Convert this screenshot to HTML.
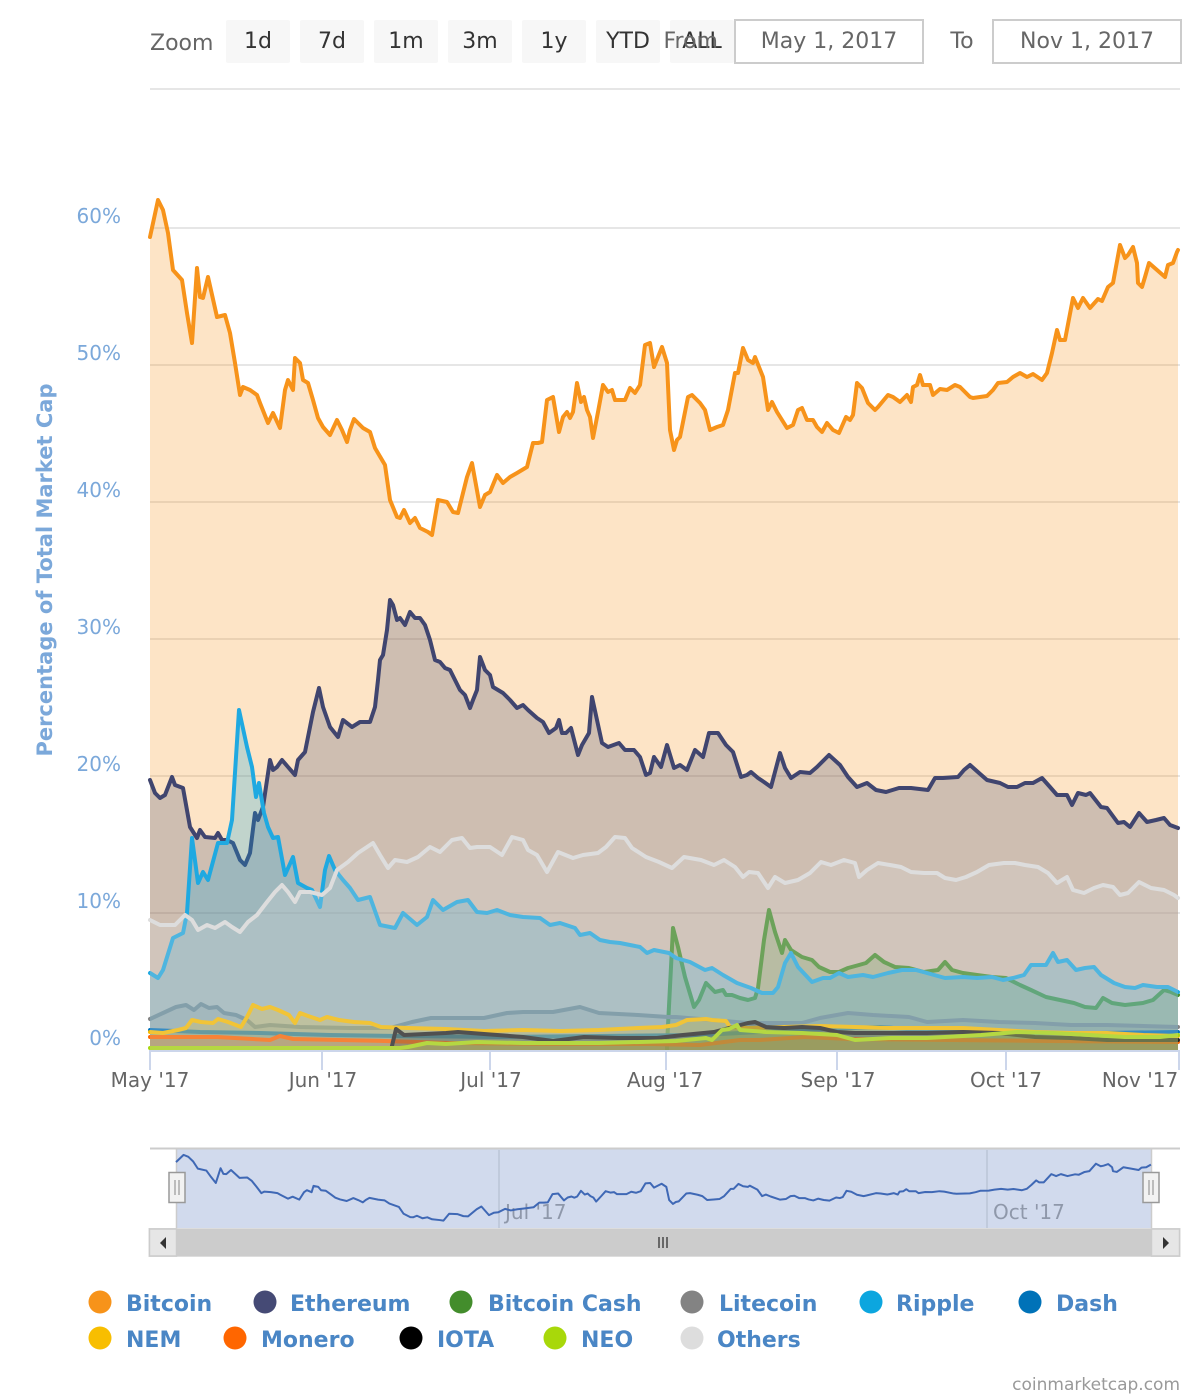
<!DOCTYPE html>
<html><head><meta charset="utf-8"><style>
html,body{margin:0;padding:0;background:#fff;}
svg{display:block;font-family:"DejaVu Sans","Liberation Sans",sans-serif;}
</style></head><body>
<svg width="1200" height="1400" viewBox="0 0 1200 1400" xmlns="http://www.w3.org/2000/svg">
<rect width="1200" height="1400" fill="#fff"/>
<!-- range selector -->
<text x="150" y="50" font-size="22" fill="#666">Zoom</text>
<g fill="#f7f7f7">
<rect x="226" y="20" width="64" height="43" rx="2"/><rect x="300" y="20" width="64" height="43" rx="2"/><rect x="374" y="20" width="64" height="43" rx="2"/><rect x="448" y="20" width="64" height="43" rx="2"/><rect x="522" y="20" width="64" height="43" rx="2"/><rect x="596" y="20" width="64" height="43" rx="2"/><rect x="670" y="20" width="64" height="43" rx="2"/>
</g>
<g font-size="22" fill="#333" text-anchor="middle">
<text x="258" y="48">1d</text><text x="332" y="48">7d</text><text x="406" y="48">1m</text><text x="480" y="48">3m</text><text x="554" y="48">1y</text><text x="628" y="48">YTD</text><text x="702" y="48">ALL</text>
</g>
<text x="718" y="48" font-size="22" fill="#666" text-anchor="end">From</text>
<rect x="735" y="20" width="188" height="43" fill="#fff" stroke="#ccc" stroke-width="2"/>
<text x="829" y="48" font-size="22" fill="#666" text-anchor="middle">May 1, 2017</text>
<text x="962" y="48" font-size="22" fill="#666" text-anchor="middle">To</text>
<rect x="993" y="20" width="188" height="43" fill="#fff" stroke="#ccc" stroke-width="2"/>
<text x="1087" y="48" font-size="22" fill="#666" text-anchor="middle">Nov 1, 2017</text>

<!-- gridlines -->
<g stroke="#e6e6e6" stroke-width="2">
<line x1="150" y1="89" x2="1180" y2="89"/>
<line x1="150" y1="228" x2="1180" y2="228"/>
<line x1="150" y1="365" x2="1180" y2="365"/>
<line x1="150" y1="502" x2="1180" y2="502"/>
<line x1="150" y1="639" x2="1180" y2="639"/>
<line x1="150" y1="776" x2="1180" y2="776"/>
<line x1="150" y1="913" x2="1180" y2="913"/>
</g>
<!-- y labels -->
<g font-size="20" fill="#7ba8da" text-anchor="end">
<text x="121" y="223">60%</text><text x="121" y="360">50%</text><text x="121" y="497">40%</text><text x="121" y="634">30%</text><text x="121" y="771">20%</text><text x="121" y="908">10%</text><text x="121" y="1045">0%</text>
</g>
<text transform="translate(52,570) rotate(-90)" text-anchor="middle" font-size="21" font-weight="bold" fill="#7ba8da">Percentage of Total Market Cap</text>

<!-- series -->
<g stroke-linejoin="round" stroke-linecap="round" fill="none" stroke-width="4">
<!-- Bitcoin -->
<polygon fill="#f7931a" fill-opacity="0.25" stroke="none" points="150,237 158,200 163,210 168,233 173,270 182,280 187,313 192,343 197,268 200,297 203,298 208,277 217,317 225,315 230,333 235,363 240,395 243,387 250,390 257,395 260,403 268,423 273,413 280,428 285,390 288,380 293,390 295,358 300,363 303,380 308,383 313,400 318,418 323,427 330,435 337,420 342,430 347,442 350,430 354,419 363,428 370,432 375,448 385,465 390,500 397,517 400,518 404,510 410,523 415,518 420,528 428,532 432,535 438,500 447,502 453,512 458,513 467,477 472,463 480,507 485,495 490,492 497,475 503,483 510,477 517,473 522,470 527,467 533,443 538,443 542,442 547,400 553,397 559,432 563,417 567,412 570,418 573,412 577,383 581,402 584,397 587,410 590,417 593,438 598,412 603,385 608,392 612,390 615,400 625,400 630,388 635,393 640,385 645,345 650,343 654,367 662,347 667,363 670,430 674,450 677,440 680,437 688,397 692,395 700,403 705,410 710,430 717,427 723,425 728,410 735,373 738,373 743,348 748,360 753,363 755,357 763,377 768,410 772,402 777,412 787,428 793,425 798,410 802,408 807,420 813,420 817,427 822,432 827,423 833,430 839,433 846,417 850,420 853,415 857,383 862,388 868,403 875,410 878,407 888,395 893,397 900,402 907,395 911,402 913,387 917,385 920,375 923,385 930,385 933,395 940,389 947,390 955,385 960,387 970,397 973,398 987,396 993,390 998,383 1007,382 1013,377 1020,373 1027,377 1033,374 1042,380 1047,373 1052,353 1057,330 1060,340 1065,340 1073,298 1078,308 1083,298 1090,308 1098,299 1102,301 1108,287 1113,283 1120,245 1125,258 1128,255 1133,247 1137,263 1138,283 1142,287 1145,277 1149,263 1157,270 1165,277 1168,265 1173,263 1177,252 1178,250 1178,1050 150,1050"/>
<polyline stroke="#f7931a" points="150,237 158,200 163,210 168,233 173,270 182,280 187,313 192,343 197,268 200,297 203,298 208,277 217,317 225,315 230,333 235,363 240,395 243,387 250,390 257,395 260,403 268,423 273,413 280,428 285,390 288,380 293,390 295,358 300,363 303,380 308,383 313,400 318,418 323,427 330,435 337,420 342,430 347,442 350,430 354,419 363,428 370,432 375,448 385,465 390,500 397,517 400,518 404,510 410,523 415,518 420,528 428,532 432,535 438,500 447,502 453,512 458,513 467,477 472,463 480,507 485,495 490,492 497,475 503,483 510,477 517,473 522,470 527,467 533,443 538,443 542,442 547,400 553,397 559,432 563,417 567,412 570,418 573,412 577,383 581,402 584,397 587,410 590,417 593,438 598,412 603,385 608,392 612,390 615,400 625,400 630,388 635,393 640,385 645,345 650,343 654,367 662,347 667,363 670,430 674,450 677,440 680,437 688,397 692,395 700,403 705,410 710,430 717,427 723,425 728,410 735,373 738,373 743,348 748,360 753,363 755,357 763,377 768,410 772,402 777,412 787,428 793,425 798,410 802,408 807,420 813,420 817,427 822,432 827,423 833,430 839,433 846,417 850,420 853,415 857,383 862,388 868,403 875,410 878,407 888,395 893,397 900,402 907,395 911,402 913,387 917,385 920,375 923,385 930,385 933,395 940,389 947,390 955,385 960,387 970,397 973,398 987,396 993,390 998,383 1007,382 1013,377 1020,373 1027,377 1033,374 1042,380 1047,373 1052,353 1057,330 1060,340 1065,340 1073,298 1078,308 1083,298 1090,308 1098,299 1102,301 1108,287 1113,283 1120,245 1125,258 1128,255 1133,247 1137,263 1138,283 1142,287 1145,277 1149,263 1157,270 1165,277 1168,265 1173,263 1177,252 1178,250"/>
<!-- Ethereum -->
<polygon fill="#454a75" fill-opacity="0.25" stroke="none" points="150,780 155,793 160,798 165,795 172,777 175,785 183,788 190,827 197,838 200,830 205,837 215,838 218,833 222,840 227,840 233,843 240,860 245,865 250,853 255,813 258,820 263,807 270,760 273,770 277,767 282,760 288,767 295,775 298,760 305,752 310,727 313,712 319,688 323,707 330,727 338,737 343,720 352,727 360,722 370,722 375,707 378,680 380,660 383,655 387,630 390,600 393,605 397,620 400,618 405,625 410,612 415,618 420,618 425,625 430,640 435,660 440,662 445,668 450,670 455,680 460,690 465,695 470,708 473,700 477,690 480,657 485,670 490,675 493,687 503,693 510,700 517,708 523,705 528,710 537,718 543,722 549,733 556,728 559,720 562,733 566,733 571,728 578,755 582,745 589,733 592,697 597,720 602,743 608,747 619,743 625,750 634,750 640,757 646,775 650,773 654,757 661,767 667,745 674,768 680,765 687,770 695,750 703,757 709,733 718,733 726,745 733,752 741,777 747,775 751,772 758,778 764,782 771,787 780,753 785,768 791,778 800,772 810,773 817,767 829,755 840,765 848,777 857,787 867,783 876,790 886,792 899,788 911,788 928,790 935,778 943,778 958,777 964,770 970,765 979,773 987,780 1000,783 1008,787 1017,787 1025,783 1033,783 1042,778 1050,787 1057,795 1067,795 1072,805 1078,793 1086,795 1090,793 1101,807 1107,808 1118,823 1124,822 1130,827 1139,813 1147,822 1156,820 1164,818 1170,825 1178,828 1178,1050 150,1050"/>
<polyline stroke="#40456f" points="150,780 155,793 160,798 165,795 172,777 175,785 183,788 190,827 197,838 200,830 205,837 215,838 218,833 222,840 227,840 233,843 240,860 245,865 250,853 255,813 258,820 263,807 270,760 273,770 277,767 282,760 288,767 295,775 298,760 305,752 310,727 313,712 319,688 323,707 330,727 338,737 343,720 352,727 360,722 370,722 375,707 378,680 380,660 383,655 387,630 390,600 393,605 397,620 400,618 405,625 410,612 415,618 420,618 425,625 430,640 435,660 440,662 445,668 450,670 455,680 460,690 465,695 470,708 473,700 477,690 480,657 485,670 490,675 493,687 503,693 510,700 517,708 523,705 528,710 537,718 543,722 549,733 556,728 559,720 562,733 566,733 571,728 578,755 582,745 589,733 592,697 597,720 602,743 608,747 619,743 625,750 634,750 640,757 646,775 650,773 654,757 661,767 667,745 674,768 680,765 687,770 695,750 703,757 709,733 718,733 726,745 733,752 741,777 747,775 751,772 758,778 764,782 771,787 780,753 785,768 791,778 800,772 810,773 817,767 829,755 840,765 848,777 857,787 867,783 876,790 886,792 899,788 911,788 928,790 935,778 943,778 958,777 964,770 970,765 979,773 987,780 1000,783 1008,787 1017,787 1025,783 1033,783 1042,778 1050,787 1057,795 1067,795 1072,805 1078,793 1086,795 1090,793 1101,807 1107,808 1118,823 1124,822 1130,827 1139,813 1147,822 1156,820 1164,818 1170,825 1178,828"/>
<!-- Bitcoin Cash -->
<polygon fill="#478f2f" fill-opacity="0.25" stroke="none" points="667,1050 667,1045 673,928 678,947 685,977 694,1007 699,1000 706,983 715,992 723,990 726,995 732,995 740,998 748,1000 755,998 758,988 764,940 769,910 775,932 782,953 785,940 791,950 802,957 812,960 819,967 830,972 839,972 848,968 859,965 866,963 875,955 884,962 895,967 909,968 924,972 938,970 945,962 952,970 963,973 977,975 992,977 1006,978 1020,985 1031,990 1046,997 1060,1000 1074,1003 1085,1007 1096,1008 1103,998 1112,1003 1125,1005 1143,1003 1153,1000 1164,990 1171,992 1178,995 1178,1050"/>
<polyline stroke="#478f2f" points="667,1050 667,1045 673,928 678,947 685,977 694,1007 699,1000 706,983 715,992 723,990 726,995 732,995 740,998 748,1000 755,998 758,988 764,940 769,910 775,932 782,953 785,940 791,950 802,957 812,960 819,967 830,972 839,972 848,968 859,965 866,963 875,955 884,962 895,967 909,968 924,972 938,970 945,962 952,970 963,973 977,975 992,977 1006,978 1020,985 1031,990 1046,997 1060,1000 1074,1003 1085,1007 1096,1008 1103,998 1112,1003 1125,1005 1143,1003 1153,1000 1164,990 1171,992 1178,995"/>
<!-- Litecoin -->
<polygon fill="#838383" fill-opacity="0.25" stroke="none" points="150,1019 163,1013 176,1007 186,1005 194,1010 201,1004 209,1008 217,1007 224,1013 236,1015 247,1020 255,1027 270,1025 300,1027 350,1028 390,1028 412,1022 431,1018 484,1018 507,1013 523,1012 553,1012 580,1007 599,1013 638,1015 668,1017 676,1017 712,1020 748,1023 802,1023 820,1018 848,1013 873,1015 909,1017 927,1022 963,1020 999,1022 1035,1023 1071,1025 1107,1025 1178,1027 1178,1050 150,1050"/>
<polyline stroke="#838383" points="150,1019 163,1013 176,1007 186,1005 194,1010 201,1004 209,1008 217,1007 224,1013 236,1015 247,1020 255,1027 270,1025 300,1027 350,1028 390,1028 412,1022 431,1018 484,1018 507,1013 523,1012 553,1012 580,1007 599,1013 638,1015 668,1017 676,1017 712,1020 748,1023 802,1023 820,1018 848,1013 873,1015 909,1017 927,1022 963,1020 999,1022 1035,1023 1071,1025 1107,1025 1178,1027"/>
<!-- Ripple -->
<polygon fill="#0ea5df" fill-opacity="0.25" stroke="none" points="150,973 158,978 163,970 173,938 183,933 187,913 192,838 198,883 203,872 208,880 218,843 227,843 232,820 239,710 247,747 252,767 256,797 259,783 264,813 268,827 273,838 278,837 285,875 293,857 298,883 307,888 312,890 320,907 325,870 329,856 335,870 343,880 350,888 358,900 370,897 380,925 395,928 403,913 417,925 427,917 433,900 443,910 457,902 468,900 477,912 487,913 497,910 510,915 523,917 540,918 550,925 560,923 575,928 580,935 590,933 600,940 610,942 620,943 630,945 640,947 647,953 654,950 669,953 676,958 690,962 705,970 712,968 723,975 737,983 751,988 762,993 773,993 778,987 785,963 791,953 798,967 812,982 823,978 830,978 839,973 848,977 863,975 873,977 888,973 902,970 916,970 927,973 945,978 963,977 977,978 992,977 1003,980 1013,978 1024,975 1031,965 1046,965 1053,953 1058,962 1067,960 1076,970 1085,968 1094,967 1101,975 1114,983 1125,987 1135,988 1143,985 1157,987 1168,987 1178,992 1178,1050 150,1050"/>
<polyline stroke="#1fa9e1" points="150,973 158,978 163,970 173,938 183,933 187,913 192,838 198,883 203,872 208,880 218,843 227,843 232,820 239,710 247,747 252,767 256,797 259,783 264,813 268,827 273,838 278,837 285,875 293,857 298,883 307,888 312,890 320,907 325,870 329,856 335,870 343,880 350,888 358,900 370,897 380,925 395,928 403,913 417,925 427,917 433,900 443,910 457,902 468,900 477,912 487,913 497,910 510,915 523,917 540,918 550,925 560,923 575,928 580,935 590,933 600,940 610,942 620,943 630,945 640,947 647,953 654,950 669,953 676,958 690,962 705,970 712,968 723,975 737,983 751,988 762,993 773,993 778,987 785,963 791,953 798,967 812,982 823,978 830,978 839,973 848,977 863,975 873,977 888,973 902,970 916,970 927,973 945,978 963,977 977,978 992,977 1003,980 1013,978 1024,975 1031,965 1046,965 1053,953 1058,962 1067,960 1076,970 1085,968 1094,967 1101,975 1114,983 1125,987 1135,988 1143,985 1157,987 1168,987 1178,992"/>
<!-- Dash -->
<polygon fill="#0072bb" fill-opacity="0.25" stroke="none" points="150,1030 200,1032 260,1033 330,1035 400,1036 500,1037 600,1036 700,1035 760,1032 800,1030 850,1028 880,1027 920,1030 1000,1033 1100,1033 1178,1032 1178,1050 150,1050"/>
<polyline stroke="#0072bb" points="150,1030 200,1032 260,1033 330,1035 400,1036 500,1037 600,1036 700,1035 760,1032 800,1030 850,1028 880,1027 920,1030 1000,1033 1100,1033 1178,1032"/>
<!-- NEM -->
<polygon fill="#f9bc00" fill-opacity="0.25" stroke="none" points="150,1032 163,1033 178,1030 186,1028 192,1020 201,1022 213,1023 218,1019 228,1022 241,1027 247,1017 253,1005 262,1009 270,1007 278,1010 289,1015 295,1023 300,1013 308,1016 320,1020 327,1017 339,1020 354,1022 370,1023 381,1027 408,1028 446,1029 484,1031 523,1030 561,1031 599,1030 638,1028 662,1027 676,1025 687,1020 706,1019 712,1020 726,1021 730,1027 748,1028 784,1027 820,1026 855,1027 891,1028 927,1028 963,1028 999,1030 1035,1032 1071,1033 1107,1033 1143,1035 1178,1036 1178,1050 150,1050"/>
<polyline stroke="#f9bc00" points="150,1032 163,1033 178,1030 186,1028 192,1020 201,1022 213,1023 218,1019 228,1022 241,1027 247,1017 253,1005 262,1009 270,1007 278,1010 289,1015 295,1023 300,1013 308,1016 320,1020 327,1017 339,1020 354,1022 370,1023 381,1027 408,1028 446,1029 484,1031 523,1030 561,1031 599,1030 638,1028 662,1027 676,1025 687,1020 706,1019 712,1020 726,1021 730,1027 748,1028 784,1027 820,1026 855,1027 891,1028 927,1028 963,1028 999,1030 1035,1032 1071,1033 1107,1033 1143,1035 1178,1036"/>
<!-- Monero -->
<polygon fill="#ff6600" fill-opacity="0.25" stroke="none" points="150,1037 217,1037 270,1040 280,1036 293,1039 385,1041 450,1043 550,1044 650,1044 700,1045 740,1040 760,1040 790,1038 805,1037 850,1039 950,1040 1050,1041 1178,1042 1178,1050 150,1050"/>
<polyline stroke="#ff6600" points="150,1037 217,1037 270,1040 280,1036 293,1039 385,1041 450,1043 550,1044 650,1044 700,1045 740,1040 760,1040 790,1038 805,1037 850,1039 950,1040 1050,1041 1178,1042"/>
<!-- IOTA -->
<polygon fill="#000" fill-opacity="0.25" stroke="none" points="391,1050 396,1029 404,1035 446,1033 458,1032 484,1034 523,1037 553,1041 584,1037 618,1038 657,1038 683,1035 714,1032 729,1028 748,1023 755,1022 766,1027 784,1028 802,1027 820,1028 837,1032 855,1033 891,1033 927,1033 963,1032 999,1033 1035,1037 1071,1038 1107,1040 1143,1040 1178,1040 1178,1050"/>
<polyline stroke="#222" points="391,1050 396,1029 404,1035 446,1033 458,1032 484,1034 523,1037 553,1041 584,1037 618,1038 657,1038 683,1035 714,1032 729,1028 748,1023 755,1022 766,1027 784,1028 802,1027 820,1028 837,1032 855,1033 891,1033 927,1033 963,1032 999,1033 1035,1037 1071,1038 1107,1040 1143,1040 1178,1040"/>
<!-- NEO -->
<polygon fill="#a8d70f" fill-opacity="0.25" stroke="none" points="150,1048 400,1048 408,1047 427,1043 446,1044 477,1042 523,1043 599,1043 676,1041 706,1038 712,1040 722,1030 729,1029 737,1025 740,1030 766,1032 802,1033 837,1035 855,1040 891,1038 927,1038 981,1035 1017,1032 1053,1033 1089,1035 1125,1037 1160,1037 1178,1035 1178,1050 150,1050"/>
<polyline stroke="#a8d70f" points="150,1048 400,1048 408,1047 427,1043 446,1044 477,1042 523,1043 599,1043 676,1041 706,1038 712,1040 722,1030 729,1029 737,1025 740,1030 766,1032 802,1033 837,1035 855,1040 891,1038 927,1038 981,1035 1017,1032 1053,1033 1089,1035 1125,1037 1160,1037 1178,1035"/>
<!-- Others -->
<polygon fill="#dddddd" fill-opacity="0.25" stroke="none" points="150,920 160,925 175,925 185,915 192,920 198,930 207,925 215,928 225,922 232,927 240,932 248,922 257,915 267,902 275,892 282,885 288,892 295,902 300,892 310,892 322,895 330,888 337,870 348,862 358,853 373,843 380,855 388,868 395,860 407,862 418,857 430,847 440,852 452,840 462,838 470,848 477,847 490,847 502,855 512,837 523,840 528,850 537,855 547,872 558,852 573,858 583,855 598,853 606,847 615,837 625,838 632,848 646,857 659,862 672,868 684,857 701,860 714,865 724,860 735,867 743,877 749,872 758,873 768,888 775,877 785,883 798,880 810,873 821,862 831,865 844,860 855,863 859,877 867,870 878,863 890,865 901,867 911,872 924,873 937,873 945,878 956,880 966,877 977,872 989,865 1004,863 1015,863 1025,865 1038,867 1048,873 1057,883 1067,877 1073,890 1084,893 1094,888 1103,885 1113,887 1120,895 1128,893 1139,882 1151,888 1164,890 1174,895 1178,898 1178,1050 150,1050"/>
<polyline stroke="#dddddd" points="150,920 160,925 175,925 185,915 192,920 198,930 207,925 215,928 225,922 232,927 240,932 248,922 257,915 267,902 275,892 282,885 288,892 295,902 300,892 310,892 322,895 330,888 337,870 348,862 358,853 373,843 380,855 388,868 395,860 407,862 418,857 430,847 440,852 452,840 462,838 470,848 477,847 490,847 502,855 512,837 523,840 528,850 537,855 547,872 558,852 573,858 583,855 598,853 606,847 615,837 625,838 632,848 646,857 659,862 672,868 684,857 701,860 714,865 724,860 735,867 743,877 749,872 758,873 768,888 775,877 785,883 798,880 810,873 821,862 831,865 844,860 855,863 859,877 867,870 878,863 890,865 901,867 911,872 924,873 937,873 945,878 956,880 966,877 977,872 989,865 1004,863 1015,863 1025,865 1038,867 1048,873 1057,883 1067,877 1073,890 1084,893 1094,888 1103,885 1113,887 1120,895 1128,893 1139,882 1151,888 1164,890 1174,895 1178,898"/>
</g>

<!-- x axis -->
<line x1="150" y1="1051" x2="1180" y2="1051" stroke="#ccd6eb" stroke-width="2"/>
<g stroke="#ccd6eb" stroke-width="2">
<line x1="150" y1="1050" x2="150" y2="1070"/><line x1="322" y1="1050" x2="322" y2="1070"/><line x1="490" y1="1050" x2="490" y2="1070"/><line x1="666" y1="1050" x2="666" y2="1070"/><line x1="837" y1="1050" x2="837" y2="1070"/><line x1="1006" y1="1050" x2="1006" y2="1070"/><line x1="1179" y1="1050" x2="1179" y2="1070"/>
</g>
<g font-size="20" fill="#666" text-anchor="middle">
<text x="150" y="1087">May '17</text><text x="323" y="1087">Jun '17</text><text x="491" y="1087">Jul '17</text><text x="665" y="1087">Aug '17</text><text x="838" y="1087">Sep '17</text><text x="1006" y="1087">Oct '17</text><text x="1140" y="1087">Nov '17</text>
</g>

<!-- navigator -->
<line x1="150" y1="1148.5" x2="1180" y2="1148.5" stroke="#cccccc" stroke-width="2"/>
<g stroke="#e0e0e0" stroke-width="1.5"><line x1="499" y1="1149" x2="499" y2="1228"/><line x1="987" y1="1149" x2="987" y2="1228"/></g>
<rect x="177" y="1149.5" width="974" height="79" fill="rgb(102,133,194)" fill-opacity="0.3"/>
<line x1="176.5" y1="1149" x2="176.5" y2="1228" stroke="#cccccc" stroke-width="1.5"/>
<line x1="1151.5" y1="1149" x2="1151.5" y2="1228" stroke="#cccccc" stroke-width="1.5"/>
<g font-size="20" fill="#8f98aa"><text x="505" y="1219">Jul '17</text><text x="993" y="1219">Oct '17</text></g>
<g transform="matrix(0.9484 0 0 0.19635 33.74 1115.6)">
<polyline fill="none" stroke="#3f68b5" stroke-width="2" vector-effect="non-scaling-stroke" stroke-linejoin="round" points="150,237 158,200 163,210 168,233 173,270 182,280 187,313 192,343 197,268 200,297 203,298 208,277 217,317 225,315 230,333 235,363 240,395 243,387 250,390 257,395 260,403 268,423 273,413 280,428 285,390 288,380 293,390 295,358 300,363 303,380 308,383 313,400 318,418 323,427 330,435 337,420 342,430 347,442 350,430 354,419 363,428 370,432 375,448 385,465 390,500 397,517 400,518 404,510 410,523 415,518 420,528 428,532 432,535 438,500 447,502 453,512 458,513 467,477 472,463 480,507 485,495 490,492 497,475 503,483 510,477 517,473 522,470 527,467 533,443 538,443 542,442 547,400 553,397 559,432 563,417 567,412 570,418 573,412 577,383 581,402 584,397 587,410 590,417 593,438 598,412 603,385 608,392 612,390 615,400 625,400 630,388 635,393 640,385 645,345 650,343 654,367 662,347 667,363 670,430 674,450 677,440 680,437 688,397 692,395 700,403 705,410 710,430 717,427 723,425 728,410 735,373 738,373 743,348 748,360 753,363 755,357 763,377 768,410 772,402 777,412 787,428 793,425 798,410 802,408 807,420 813,420 817,427 822,432 827,423 833,430 839,433 846,417 850,420 853,415 857,383 862,388 868,403 875,410 878,407 888,395 893,397 900,402 907,395 911,402 913,387 917,385 920,375 923,385 930,385 933,395 940,389 947,390 955,385 960,387 970,397 973,398 987,396 993,390 998,383 1007,382 1013,377 1020,373 1027,377 1033,374 1042,380 1047,373 1052,353 1057,330 1060,340 1065,340 1073,298 1078,308 1083,298 1090,308 1098,299 1102,301 1108,287 1113,283 1120,245 1125,258 1128,255 1133,247 1137,263 1138,283 1142,287 1145,277 1149,263 1157,270 1165,277 1168,265 1173,263 1177,252 1178,250"/>
</g>
<!-- handles -->
<rect x="169" y="1172.5" width="16" height="30" fill="#f2f2f2" stroke="#999" stroke-width="1.5"/>
<g stroke="#999" stroke-width="1.2"><line x1="175" y1="1180" x2="175" y2="1195"/><line x1="179" y1="1180" x2="179" y2="1195"/></g>
<rect x="1143" y="1172.5" width="16" height="30" fill="#f2f2f2" stroke="#999" stroke-width="1.5"/>
<g stroke="#999" stroke-width="1.2"><line x1="1149" y1="1180" x2="1149" y2="1195"/><line x1="1153" y1="1180" x2="1153" y2="1195"/></g>
<!-- scrollbar -->
<rect x="149" y="1228.5" width="1031" height="28" fill="#f2f2f2" stroke="#ddd" stroke-width="1"/>
<rect x="177" y="1229" width="974" height="27" fill="#cccccc"/>
<rect x="149.5" y="1229" width="27" height="27" fill="#e6e6e6" stroke="#cccccc" stroke-width="1.5"/>
<polygon points="166,1237 166,1249 160,1243" fill="#333"/>
<rect x="1151.5" y="1229" width="28" height="27" fill="#e6e6e6" stroke="#cccccc" stroke-width="1.5"/>
<polygon points="1163,1237 1163,1249 1169,1243" fill="#333"/>
<g stroke="#333" stroke-width="1.3"><line x1="659" y1="1237" x2="659" y2="1248"/><line x1="663" y1="1237" x2="663" y2="1248"/><line x1="667" y1="1237" x2="667" y2="1248"/></g>

<!-- legend -->
<g>
<circle cx="100" cy="1302" r="11.5" fill="#f7931a"/>
<circle cx="265" cy="1302" r="11.5" fill="#454a75"/>
<circle cx="461" cy="1302" r="11.5" fill="#438d2c"/>
<circle cx="692" cy="1302" r="11.5" fill="#838383"/>
<circle cx="871" cy="1302" r="11.5" fill="#0ca6df"/>
<circle cx="1030" cy="1302" r="11.5" fill="#0072b8"/>
<circle cx="100" cy="1338" r="11.5" fill="#f8be00"/>
<circle cx="235" cy="1338" r="11.5" fill="#ff6600"/>
<circle cx="411" cy="1338" r="11.5" fill="#000000"/>
<circle cx="555" cy="1338" r="11.5" fill="#a8d80a"/>
<circle cx="692" cy="1338" r="11.5" fill="#dddddd"/>
</g>
<g font-size="22" font-weight="bold" fill="#4a86c5">
<text x="126" y="1311">Bitcoin</text>
<text x="290" y="1311">Ethereum</text>
<text x="488" y="1311">Bitcoin Cash</text>
<text x="719" y="1311">Litecoin</text>
<text x="896" y="1311">Ripple</text>
<text x="1056" y="1311">Dash</text>
<text x="126" y="1347">NEM</text>
<text x="261" y="1347">Monero</text>
<text x="437" y="1347">IOTA</text>
<text x="581" y="1347">NEO</text>
<text x="717" y="1347">Others</text>
</g>
<text x="1180" y="1390" font-size="17" fill="#999" text-anchor="end">coinmarketcap.com</text>
</svg>
</body></html>
